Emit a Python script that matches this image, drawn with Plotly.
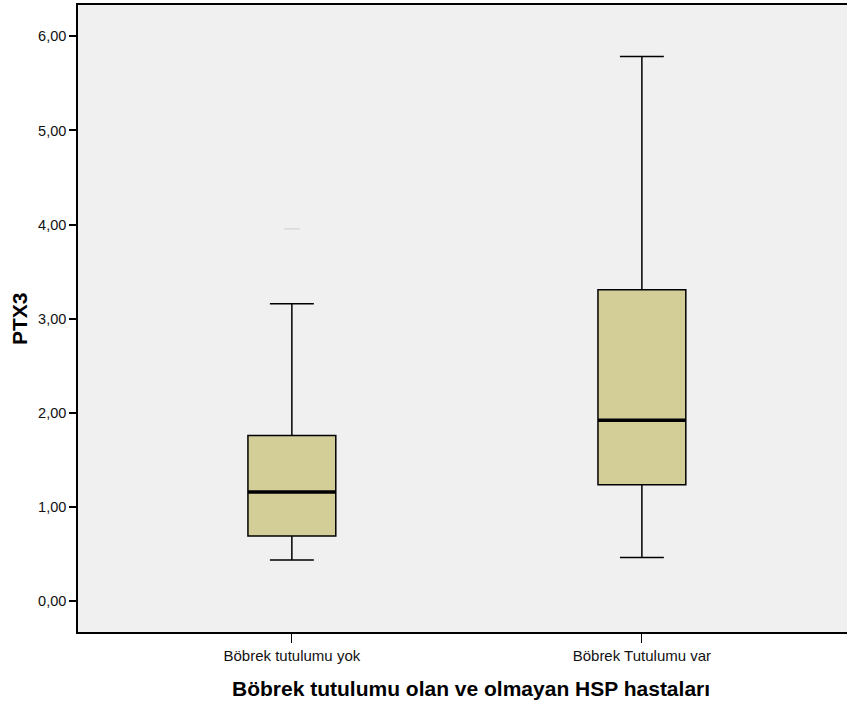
import plotly.graph_objects as go

# Group labels and box statistics for PTX3
categories = ["Böbrek tutulumu yok", "Böbrek Tutulumu var"]
positions = [0, 1]
lower_whisker = [0.435, 0.463]
q1 = [0.690, 1.236]
median = [1.158, 1.922]
q3 = [1.760, 3.307]
upper_whisker = [3.160, 5.787]
# faint extreme value in the first group
outlier_x = [0]
outlier_y = [3.955]

y_ticks = [0, 1, 2, 3, 4, 5, 6]
y_tick_text = ["0,00", "1,00", "2,00", "3,00", "4,00", "5,00", "6,00"]

box_fill = "rgb(211,206,151)"
box_width = 0.251

# plot-area geometry in pixels (used to place the titles)
fig_w, fig_h = 847, 707
m_l, m_r, m_t, m_b = 78, 0, 5, 75
plot_w = fig_w - m_l - m_r
plot_h = fig_h - m_t - m_b

fig = go.Figure()

fig.add_trace(go.Box(
    x=positions,
    q1=q1,
    median=median,
    q3=q3,
    lowerfence=lower_whisker,
    upperfence=upper_whisker,
    width=box_width,
    whiskerwidth=0.5,
    fillcolor=box_fill,
    line=dict(color="black", width=1.5),
    boxpoints=False,
    hoverinfo="skip",
    showlegend=False,
))

# heavier median bars drawn over the boxes
for xp, m in zip(positions, median):
    fig.add_trace(go.Scatter(
        x=[xp - box_width / 2, xp + box_width / 2],
        y=[m, m],
        mode="lines",
        line=dict(color="black", width=3.5),
        hoverinfo="skip",
        showlegend=False,
    ))

fig.add_trace(go.Scatter(
    x=outlier_x,
    y=outlier_y,
    mode="markers",
    marker=dict(symbol="line-ew", size=11, line=dict(color="rgb(218,218,218)", width=1.5)),
    hoverinfo="skip",
    showlegend=False,
))

fig.update_layout(
    width=fig_w,
    height=fig_h,
    margin=dict(l=m_l, r=m_r, t=m_t, b=m_b),
    paper_bgcolor="white",
    plot_bgcolor="rgb(240,240,240)",
    font=dict(family="Liberation Sans, Arial, sans-serif", color="black"),
    xaxis=dict(
        range=[-0.611, 1.586],
        tickvals=positions,
        ticktext=categories,
        ticks="outside",
        ticklen=9,
        tickwidth=1,
        tickcolor="black",
        tickfont=dict(size=15, color="#111"),
        showline=True,
        linecolor="black",
        linewidth=1.5,
        mirror=True,
        showgrid=False,
        zeroline=False,
        fixedrange=True,
    ),
    yaxis=dict(
        range=[-0.329, 6.333],
        tickvals=y_ticks,
        ticktext=y_tick_text,
        ticks="outside",
        ticklen=7,
        tickwidth=1.5,
        tickcolor="black",
        tickfont=dict(size=14.5, color="#111"),
        showline=True,
        linecolor="black",
        linewidth=1.5,
        showgrid=False,
        zeroline=False,
    ),
    annotations=[
        dict(
            text="<b>Böbrek tutulumu olan ve olmayan HSP hastaları</b>",
            xref="paper", yref="paper",
            x=(471 - m_l) / plot_w, y=-(688 - (fig_h - m_b)) / plot_h,
            xanchor="center", yanchor="middle",
            showarrow=False,
            font=dict(size=21, color="black"),
        ),
        dict(
            text="<b>PTX3</b>",
            xref="paper", yref="paper",
            x=(19 - m_l) / plot_w, y=((fig_h - m_b) - 319) / plot_h,
            xanchor="center", yanchor="middle",
            textangle=-90,
            showarrow=False,
            font=dict(size=21, color="black"),
        ),
    ],
)

fig.write_html("out.html")
